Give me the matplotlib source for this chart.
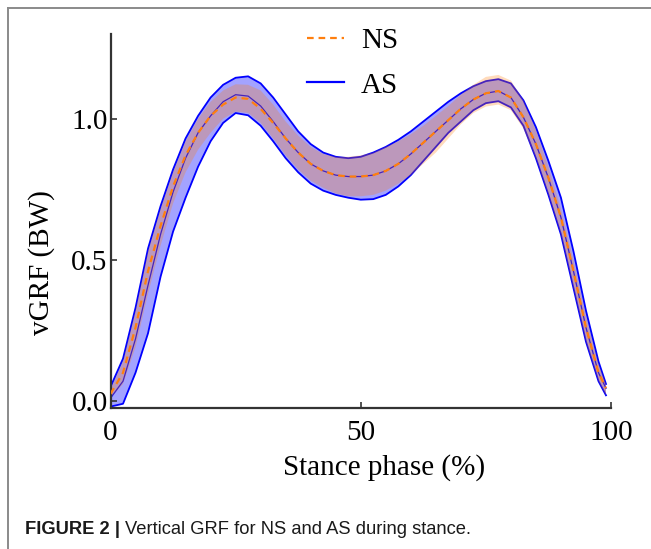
import matplotlib
matplotlib.use("Agg")
import matplotlib.pyplot as plt
from matplotlib.lines import Line2D
import numpy as np

# ---- data ----
stance = [0, 2.5, 5, 7.5, 10, 12.5, 15, 17.5, 20, 22.5, 25, 27.5, 30, 32.5, 35, 37.5,
          40, 42.5, 45, 47.5, 50, 52.5, 55, 57.5, 60, 62.5, 65, 67.5, 70, 72.5, 75,
          77.5, 80, 82.5, 85, 87.5, 90, 92.5, 95, 97.5, 99]

as_mean = [0.01, 0.07, 0.22, 0.41, 0.59, 0.74, 0.86, 0.95, 1.01, 1.06, 1.085, 1.08, 1.045,
           0.99, 0.93, 0.88, 0.84, 0.815, 0.80, 0.795, 0.795, 0.80, 0.815, 0.84, 0.875,
           0.915, 0.955, 0.995, 1.035, 1.068, 1.09, 1.098, 1.075, 1.005, 0.91, 0.79, 0.65,
           0.46, 0.26, 0.10, 0.045]
as_upper = [0.05, 0.15, 0.33, 0.54, 0.69, 0.82, 0.93, 1.01, 1.075, 1.12, 1.145, 1.15, 1.125,
            1.075, 1.015, 0.955, 0.91, 0.88, 0.865, 0.86, 0.865, 0.88, 0.90, 0.925, 0.955,
            0.99, 1.025, 1.06, 1.09, 1.115, 1.133, 1.14, 1.125, 1.065, 0.97, 0.85, 0.72,
            0.53, 0.32, 0.14, 0.06]
as_lower = [-0.02, -0.01, 0.10, 0.24, 0.44, 0.60, 0.72, 0.83, 0.92, 0.985, 1.02, 1.012, 0.975,
            0.92, 0.86, 0.81, 0.77, 0.745, 0.73, 0.72, 0.713, 0.715, 0.73, 0.76, 0.80,
            0.85, 0.90, 0.95, 0.99, 1.03, 1.055, 1.062, 1.04, 0.975, 0.86, 0.73, 0.59,
            0.40, 0.21, 0.07, 0.02]

ns_mean = [0.025, 0.10, 0.26, 0.46, 0.62, 0.76, 0.87, 0.95, 1.01, 1.05, 1.075, 1.07, 1.035,
           0.985, 0.93, 0.88, 0.84, 0.815, 0.80, 0.795, 0.795, 0.80, 0.815, 0.84, 0.875,
           0.915, 0.955, 0.995, 1.035, 1.068, 1.09, 1.098, 1.075, 1.005, 0.91, 0.79, 0.65,
           0.46, 0.26, 0.10, 0.045]
ns_upper = [0.04, 0.14, 0.32, 0.53, 0.68, 0.81, 0.92, 1.00, 1.06, 1.10, 1.122, 1.12, 1.10,
            1.05, 0.99, 0.94, 0.90, 0.875, 0.865, 0.865, 0.87, 0.88, 0.90, 0.92, 0.945,
            0.975, 1.01, 1.045, 1.085, 1.12, 1.148, 1.155, 1.135, 1.065, 0.96, 0.83, 0.68,
            0.50, 0.30, 0.13, 0.06]
ns_lower = [0.01, 0.06, 0.19, 0.38, 0.55, 0.70, 0.81, 0.89, 0.95, 1.00, 1.025, 1.02, 0.985,
            0.93, 0.87, 0.82, 0.78, 0.755, 0.735, 0.725, 0.725, 0.73, 0.745, 0.77, 0.80,
            0.84, 0.88, 0.93, 0.98, 1.02, 1.043, 1.05, 1.03, 0.965, 0.86, 0.73, 0.59,
            0.40, 0.21, 0.07, 0.02]

x_ticks = [0, 50, 100]
y_ticks = [0.0, 0.5, 1.0]
y_ticklabels = ["0.0", "0.5", "1.0"]
series_labels = ["NS", "AS"]

# ---- figure ----
W, H = 651, 549
fig = plt.figure(figsize=(W / 100, H / 100), dpi=100)
fig.patch.set_facecolor("white")

serif = ["Liberation Serif", "DejaVu Serif"]
ax = fig.add_axes([110.5 / W, 1 - 408 / H, (611 - 110.5) / W, (408 - 34) / H])

blue = "#0000ff"
orange = "#ff7f0e"

ax.fill_between(stance, as_lower, as_upper, facecolor=blue, alpha=0.36,
                edgecolor="none", zorder=1)
ax.plot(stance, as_upper, color=blue, lw=1.3, zorder=1.5)
ax.plot(stance, as_lower, color=blue, lw=1.3, zorder=1.5)
ax.plot(stance, as_mean, color=blue, lw=0.9, zorder=1.6)
ax.fill_between(stance, ns_lower, ns_upper, facecolor=orange, alpha=0.28,
                edgecolor="none", zorder=2)
ax.plot(stance, ns_mean, color=orange, lw=1.6, ls=(0, (3, 2.2)), zorder=3)

ax.set_xlim(0, 100)
ax.set_ylim(-0.025, 1.30)
ax.set_xticks(x_ticks)
ax.set_yticks(y_ticks)
ax.set_yticklabels(y_ticklabels)
for s in ["top", "right"]:
    ax.spines[s].set_visible(False)
for s in ["left", "bottom"]:
    ax.spines[s].set_color("#333333")
    ax.spines[s].set_linewidth(1.6)
ax.tick_params(direction="in", length=4, width=1.2, color="#333333")
ax.tick_params(axis="x", pad=9)
ax.tick_params(axis="y", pad=2)
for lab in ax.get_xticklabels() + ax.get_yticklabels():
    lab.set_family(serif)
    lab.set_fontsize(21)

ax.set_xlabel("Stance phase (%)", family=serif, fontsize=21)
ax.set_ylabel("vGRF (BW)", family=serif, fontsize=21)
ax.xaxis.set_label_coords(0.547, -0.158)
ax.xaxis.label.set_va("center")
ax.yaxis.set_label_coords(-0.137, 0.39)
ax.yaxis.label.set_va("center")

handles = [Line2D([], [], color=orange, lw=1.6, ls=(0, (3, 2.2))),
           Line2D([], [], color=blue, lw=1.6)]
leg = ax.legend(handles, series_labels, loc="upper left",
                bbox_to_anchor=((281 - 110.5) / 500.5, 1.087), frameon=False,
                prop={"family": serif, "size": 21}, handlelength=1.25,
                labelspacing=0.62, handletextpad=0.6)

# frame around the figure (top and left visible)
fig.add_artist(Line2D([8 / W, 1.0], [1 - 7.5 / H, 1 - 7.5 / H], color="#8a8a8a",
                      lw=1.4, transform=fig.transFigure))
fig.add_artist(Line2D([8 / W, 8 / W], [0.0, 1 - 7.5 / H], color="#8a8a8a",
                      lw=1.4, transform=fig.transFigure))

# caption
sans = ["Liberation Sans", "DejaVu Sans"]
t1 = fig.text(25 / W, 1 - 530 / H, "FIGURE 2 |", family=sans, fontsize=13.2,
              fontweight="bold", va="center", ha="left", color="#1a1a1a")
fig.canvas.draw()
bb = t1.get_window_extent(fig.canvas.get_renderer())
fig.text((bb.x1 + 5) / W, 1 - 530 / H, "Vertical GRF for NS and AS during stance.",
         family=sans, fontsize=13.2, va="center", ha="left", color="#1a1a1a")

fig.savefig("out.png", dpi=100)
